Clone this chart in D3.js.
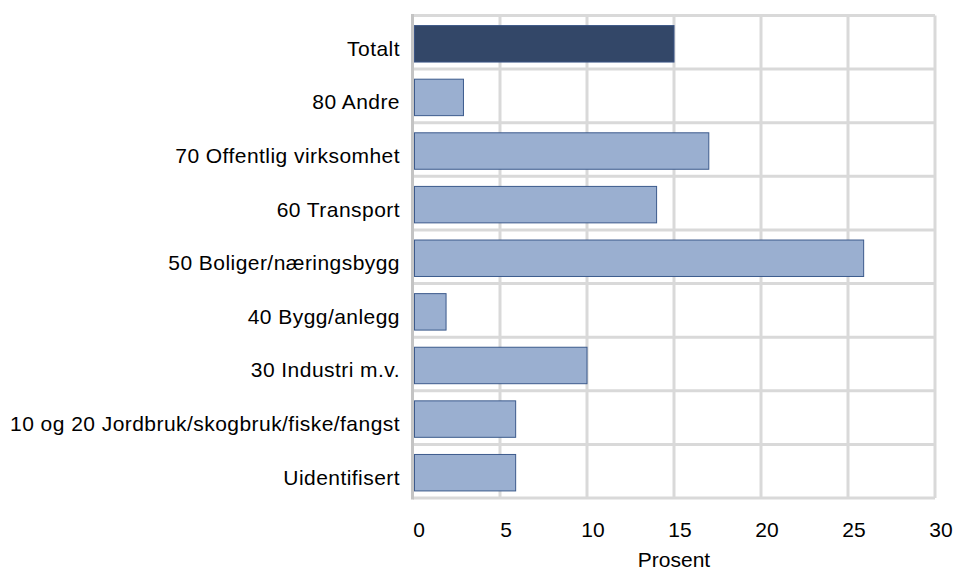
<!DOCTYPE html>
<html>
<head>
<meta charset="utf-8">
<script src="https://cdn.jsdelivr.net/npm/d3@7"></script>
<style>
  html, body { margin: 0; padding: 0; background: #ffffff; }
  svg { display: block; }
  text { font-family: "Liberation Sans", Arial, sans-serif; fill: #000; }
</style>
</head>
<body>
<svg id="chart" width="955" height="570"></svg>
<script>
const categories = [
  "Totalt",
  "80 Andre",
  "70 Offentlig virksomhet",
  "60 Transport",
  "50 Boliger/næringsbygg",
  "40 Bygg/anlegg",
  "30 Industri m.v.",
  "10 og 20 Jordbruk/skogbruk/fiske/fangst",
  "Uidentifisert"
];
const values = [15.0, 2.9, 17.0, 14.0, 25.9, 1.9, 10.0, 5.9, 5.9];
const xTicks = [0, 5, 10, 15, 20, 25, 30];
const xTitle = "Prosent";

const svg = d3.select("#chart");
const pLeft = 413, pRight = 935, pTop = 15.5, pBottom = 498;

const x = d3.scaleLinear().domain([0, 30]).range([pLeft, pRight]);
const y = d3.scaleBand().domain(categories).range([pTop, pBottom]).paddingInner(0.32).paddingOuter(0.16);
const step = y.step();

const grid = svg.append("g");
grid.selectAll("line.v").data(xTicks.slice(1)).enter().append("line")
  .attr("x1", d => x(d)).attr("x2", d => x(d))
  .attr("y1", pTop).attr("y2", pBottom)
  .attr("stroke", "#d9d9d9").attr("stroke-width", 3);
const bounds = d3.range(categories.length).map(i => pTop + i * step);
grid.selectAll("line.h").data(bounds).enter().append("line")
  .attr("x1", pLeft).attr("x2", pRight)
  .attr("y1", d => d).attr("y2", d => d)
  .attr("stroke", "#d9d9d9").attr("stroke-width", 3);
grid.append("line")
  .attr("x1", pLeft).attr("x2", pRight)
  .attr("y1", pBottom).attr("y2", pBottom)
  .attr("stroke", "#d9d9d9").attr("stroke-width", 3);
grid.append("line")
  .attr("x1", pLeft - 0.5).attr("x2", pLeft - 0.5)
  .attr("y1", pTop - 1.5).attr("y2", pBottom + 1.5)
  .attr("stroke", "#c4c4c4").attr("stroke-width", 3);

svg.append("g").selectAll("rect").data(categories).enter().append("rect")
  .attr("x", pLeft + 1.5)
  .attr("y", d => y(d) + 1.5)
  .attr("width", (d, i) => x(values[i]) - pLeft - 1.5)
  .attr("height", y.bandwidth())
  .attr("fill", (d, i) => i === 0 ? "#334768" : "#9aafd0")
  .attr("stroke", (d, i) => i === 0 ? "#3b5585" : "#3c5a8c")
  .attr("stroke-width", 1);

svg.append("g").selectAll("text").data(categories).enter().append("text")
  .attr("x", 400)
  .attr("y", d => y(d) + 1.5 + y.bandwidth() / 2 + 12)
  .attr("text-anchor", "end")
  .attr("font-size", 21)
  .attr("letter-spacing", "0.45px")
  .text(d => d);

svg.append("g").selectAll("text").data(xTicks).enter().append("text")
  .attr("x", d => x(d) + 6)
  .attr("y", 537)
  .attr("text-anchor", "middle")
  .attr("font-size", 21)
  .text(d => d);

svg.append("text")
  .attr("x", (pLeft + pRight) / 2)
  .attr("y", 567)
  .attr("text-anchor", "middle")
  .attr("font-size", 21)
  .text(xTitle);
</script>
</body>
</html>
